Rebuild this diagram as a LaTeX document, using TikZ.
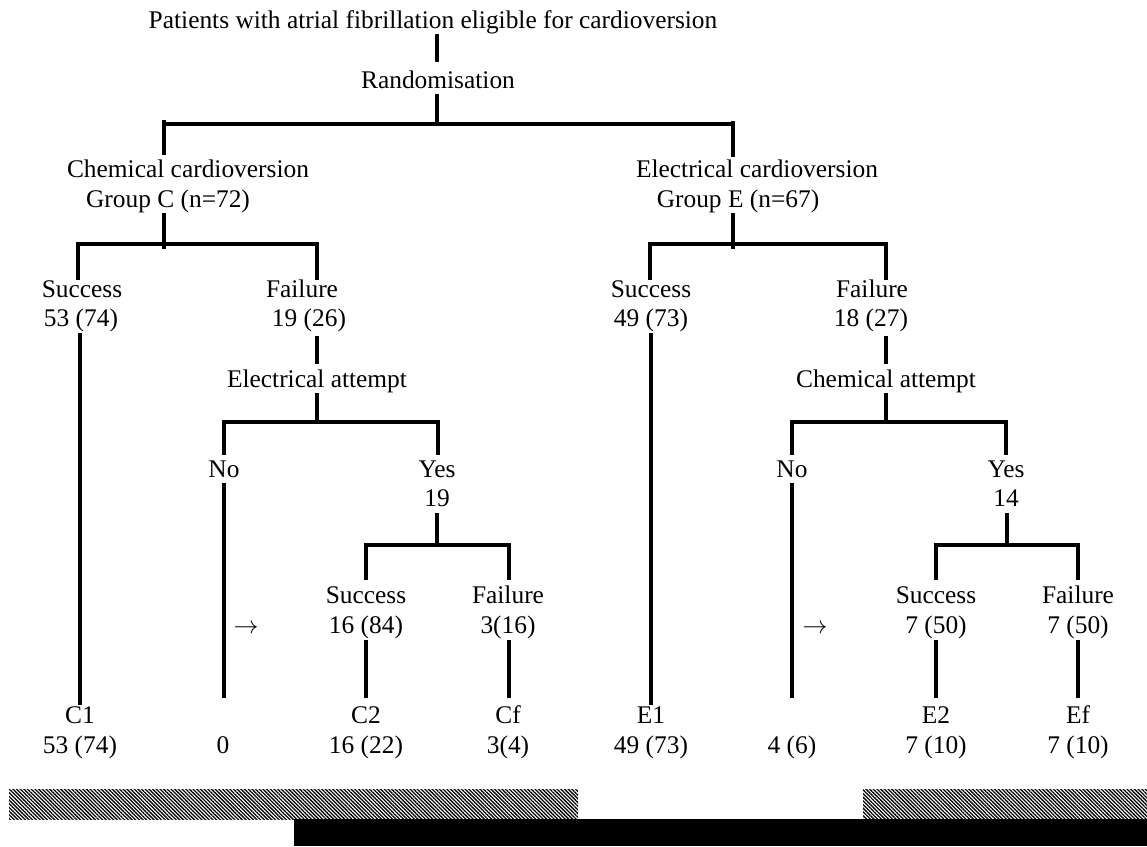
\documentclass[tikz,border=0pt]{standalone}
\usepackage{fontspec}
\setmainfont{Liberation Serif}
\usetikzlibrary{patterns.meta}
\tikzset{
  lbl/.style={anchor=base, inner sep=0pt, font=\fontsize{25.4}{30}\selectfont, align=center},
  tree/.style={line width=4.5pt},
  hatch/.style={pattern={Lines[angle=-45,distance=2.6pt,line width=1.3pt]}, draw=none}
}
\begin{document}
\begin{tikzpicture}[x=1pt,y=-1pt]
\useasboundingbox (0,0) rectangle (1147,846);
% texts
\node[lbl] (title) at (433,28) {Patients with atrial fibrillation eligible for cardioversion};
\node[lbl] (rand) at (438,88) {Randomisation};
\node[lbl] (chem) at (188,177) {Chemical cardioversion};
\node[lbl] (grpC) at (168,207) {Group C (n=72)};
\node[lbl] (elec) at (757,177) {Electrical cardioversion};
\node[lbl] (grpE) at (738,207) {Group E (n=67)};
% C side
\node[lbl] (cS) at (82,297) {Success};
\node[lbl] (cSn) at (81,326) {53 (74)};
\node[lbl] (cF) at (302,297) {Failure};
\node[lbl] (cFn) at (309,326) {19 (26)};
\node[lbl] (eatt) at (317,387) {Electrical attempt};
\node[lbl] (cNo) at (224,477) {No};
\node[lbl] (cYes) at (437,477) {Yes};
\node[lbl] (cYesn) at (437,506) {19};
\node[lbl] (cS2) at (366,603) {Success};
\node[lbl] (cS2n) at (366,633) {16 (84)};
\node[lbl] (cF2) at (508,603) {Failure};
\node[lbl] (cF2n) at (508,633) {3(16)};
\node[lbl] (cArr) at (246,633) {$\rightarrow$};
\node[lbl] (C1) at (80,723) {C1};
\node[lbl] (C1n) at (80,753) {53 (74)};
\node[lbl] (C0n) at (223,753) {0};
\node[lbl] (C2) at (366,723) {C2};
\node[lbl] (C2n) at (366,753) {16 (22)};
\node[lbl] (Cf) at (508,723) {Cf};
\node[lbl] (Cfn) at (508,753) {3(4)};
% E side
\node[lbl] (eS) at (651,297) {Success};
\node[lbl] (eSn) at (651,326) {49 (73)};
\node[lbl] (eF) at (872,297) {Failure};
\node[lbl] (eFn) at (871,326) {18 (27)};
\node[lbl] (catt) at (886,387) {Chemical attempt};
\node[lbl] (eNo) at (792,477) {No};
\node[lbl] (eYes) at (1006,477) {Yes};
\node[lbl] (eYesn) at (1006,506) {14};
\node[lbl] (eS2) at (936,603) {Success};
\node[lbl] (eS2n) at (936,633) {7 (50)};
\node[lbl] (eF2) at (1078,603) {Failure};
\node[lbl] (eF2n) at (1078,633) {7 (50)};
\node[lbl] (eArr) at (815,633) {$\rightarrow$};
\node[lbl] (E1) at (651,723) {E1};
\node[lbl] (E1n) at (651,753) {49 (73)};
\node[lbl] (E0n) at (792,753) {4 (6)};
\node[lbl] (E2) at (936,723) {E2};
\node[lbl] (E2n) at (936,753) {7 (10)};
\node[lbl] (Ef) at (1078,723) {Ef};
\node[lbl] (Efn) at (1078,753) {7 (10)};
% tree lines
\draw[tree] (437,34) -- (437,62);
\draw[tree] (437,94) -- (437,124);
\draw[tree] (164,124) -- (733,124);
\draw[tree] (164,120) -- (164,155);
\draw[tree] (733,121) -- (733,157);
% C branch
\draw[tree] (164,213) -- (164,249);
\draw[tree] (78,280) -- (78,244) -- (317,244) -- (317,280);
\draw[tree] (80,333) -- (80,705);
\draw[tree] (317,336) -- (317,364);
\draw[tree] (317,393) -- (317,422);
\draw[tree] (224,455) -- (224,422) -- (438,422) -- (438,455);
\draw[tree] (224,483) -- (224,698);
\draw[tree] (437,513) -- (437,545);
\draw[tree] (366,580) -- (366,545) -- (509,545) -- (509,580);
\draw[tree] (366,640) -- (366,698);
\draw[tree] (509,640) -- (509,698);
% E branch
\draw[tree] (733,213) -- (733,249);
\draw[tree] (650,280) -- (650,244) -- (886,244) -- (886,280);
\draw[tree] (651,333) -- (651,705);
\draw[tree] (886,336) -- (886,364);
\draw[tree] (886,393) -- (886,422);
\draw[tree] (792,455) -- (792,422) -- (1006,422) -- (1006,455);
\draw[tree] (792,483) -- (792,698);
\draw[tree] (1007,513) -- (1007,545);
\draw[tree] (936,580) -- (936,545) -- (1078,545) -- (1078,580);
\draw[tree] (936,640) -- (936,698);
\draw[tree] (1078,640) -- (1078,698);
% bottom bars
\fill[hatch] (9,789) rectangle (578,819);
\fill[hatch] (863,789) rectangle (1147,819);
\fill[black] (294,819) rectangle (1147,846);
\end{tikzpicture}
\end{document}
